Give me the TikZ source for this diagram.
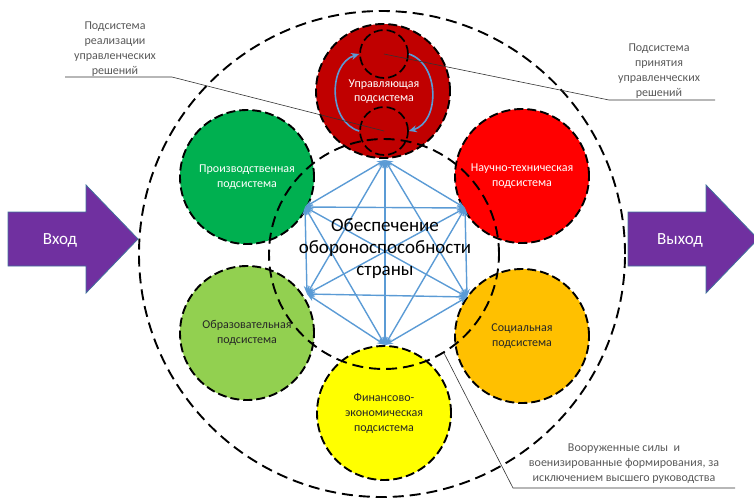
\documentclass[tikz,border=0pt]{standalone}
\usepackage{fontspec}
\setmainfont{Carlito}
\usetikzlibrary{arrows.meta}
\definecolor{cDark}{HTML}{C00000}
\definecolor{cGreen}{HTML}{00B050}
\definecolor{cRed}{HTML}{FF0000}
\definecolor{cLGreen}{HTML}{92D050}
\definecolor{cOrange}{HTML}{FFC000}
\definecolor{cYellow}{HTML}{FFFF00}
\definecolor{cPurple}{HTML}{7030A0}
\definecolor{cEdge}{HTML}{41719C}
\definecolor{cBlue}{HTML}{5B9BD5}
\definecolor{cGray}{HTML}{595959}
\tikzset{
  bigdash/.style={draw=black, line width=1.9pt, dash pattern=on 11pt off 6pt},
  sub/.style={circle, minimum size=134pt, inner sep=0pt, draw=black, line width=1.9pt,
    dash pattern=on 9pt off 4pt, align=center, font=\fontsize{12}{15}\selectfont},
  subin/.style={circle, minimum size=48pt, inner sep=0pt, draw=black, line width=1.7pt,
    dash pattern=on 9pt off 4pt},
  lighttxt/.style={text=white},
  darktxt/.style={text=black!85},
  lbl/.style={align=center, text=cGray, font=\fontsize{12}{15}\selectfont},
  lblline/.style={draw=black!80, line width=0.6pt},
  link/.style={draw=cBlue, line width=1.4pt, {Stealth[length=8pt,width=6pt]}-{Stealth[length=8pt,width=6pt]}},
  turn/.style={draw=cBlue, line width=1.6pt, -{Stealth[length=8pt,width=7pt]}},
  blockarrow/.style={fill=cPurple, draw=cEdge, line width=0.8pt},
  arrowtxt/.style={text=white, font=\fontsize{17}{20}\selectfont}
}
\begin{document}
\begin{tikzpicture}[x=1pt,y=-1pt]
\useasboundingbox (0,0) rectangle (754,499);

% outer dashed circle
\draw[bigdash] (382,254) circle[radius=243pt];

% block arrows
\draw[blockarrow] (8,212) -- (86,212) -- (86,185) -- (138,239) -- (86,293) -- (86,266) -- (8,266) -- cycle;
\node[arrowtxt] (inp) at (60,240) {Вход};
\draw[blockarrow] (628,212) -- (706,212) -- (706,185) -- (758,239) -- (706,293) -- (706,266) -- (628,266) -- cycle;
\node[arrowtxt] (outp) at (680,240) {Выход};

% subsystem circles
\node[sub, fill=cDark, lighttxt] (upr) at (383,91) {};
\node[sub, fill=cGreen, lighttxt] (proiz) at (247,177) {Производственная\\подсистема};
\node[sub, fill=cRed, lighttxt] (nauch) at (522,176) {Научно-техническая\\подсистема};
\node[sub, fill=cLGreen, darktxt] (obraz) at (247,333) {Образовательная\\подсистема};
\node[sub, fill=cOrange, darktxt] (soc) at (522,336) {Социальная\\подсистема};
\node[sub, fill=cYellow, darktxt] (fin) at (384,413) {Финансово-\\экономическая\\подсистема};

% inner dashed circle (armed forces)
\draw[bigdash] (384,254) circle[radius=115pt];

% inner circles of the managing subsystem
\node[subin] (upp) at (384,54) {};
\node[subin] (low) at (384,131) {};
\node[lighttxt, align=center, font=\fontsize{12}{14}\selectfont] (uprtxt) at (384,92) {Управляющая\\подсистема};
\draw[turn] (low.west) .. controls (328,122) and (328,64) .. (upp.west);
\draw[turn] (upp.east) .. controls (440,64) and (440,122) .. (low.east);

% hexagon of links
\coordinate (v1) at (385,160);
\coordinate (v2) at (465,208);
\coordinate (v3) at (467,297);
\coordinate (v4) at (385,345);
\coordinate (v5) at (307,294);
\coordinate (v6) at (305,207);
\foreach \a/\b in {v1/v2,v1/v3,v1/v4,v1/v5,v1/v6,v2/v3,v2/v4,v2/v5,v2/v6,v3/v4,v3/v5,v3/v6,v4/v5,v4/v6,v5/v6}
  \draw[link] (\a) -- (\b);

% central text
\node[align=center, font=\fontsize{19}{22}\selectfont, text=black] (main) at (385,249)
  {Обеспечение\\обороноспособности\\страны};

% labels
\node[lbl] (lreal) at (115,49) {Подсистема\\реализации\\управленческих\\решений};
\coordinate (a1) at (65,77);
\coordinate (a2) at (172,77);
\draw[lblline] (a1) -- (a2) -- (low.center);

\node[lbl] (lprin) at (659,71) {Подсистема\\принятия\\управленческих\\решений};
\coordinate (b1) at (715,100);
\coordinate (b2) at (609,100);
\draw[lblline] (b1) -- (b2) -- (upp.center);

\node[lbl] (larmy) at (624,464) {Вооруженные силы \ и\\военизированные формирования, за\\исключением высшего руководства};
\coordinate (c1) at (735,488);
\coordinate (c2) at (513,488);
\coordinate (c3) at (444,353);
\draw[lblline] (c1) -- (c2) -- (c3);
\end{tikzpicture}
\end{document}
